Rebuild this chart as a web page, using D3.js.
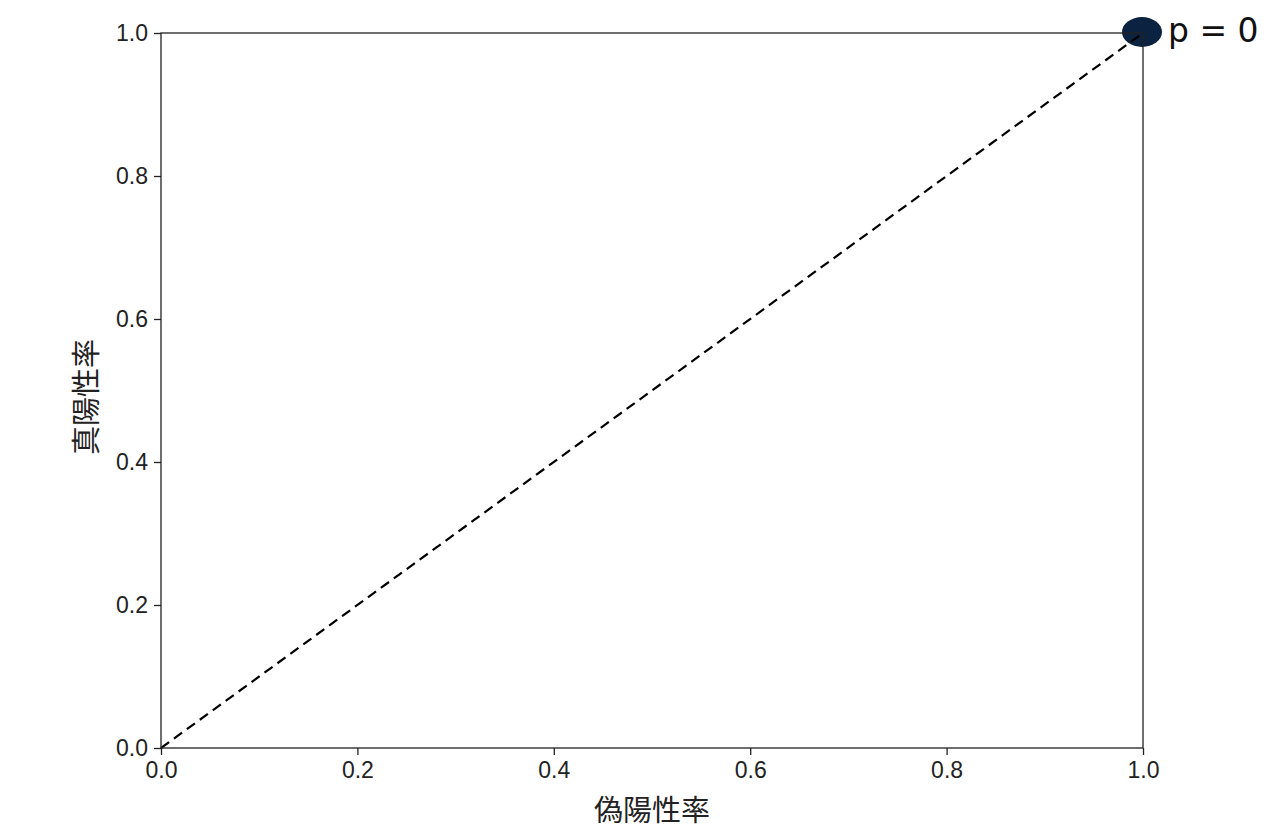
<!DOCTYPE html>
<html>
<head>
<meta charset="utf-8">
<script src="https://cdn.jsdelivr.net/npm/d3@7"></script>
<style>
  body { margin: 0; background: #fff; }
  .tick text { font-family: "Liberation Sans", Arial, sans-serif; font-size: 23px; fill: #222; }
  .axisText { font-family: "Noto Sans CJK JP", sans-serif; font-size: 29px; fill: #222; }
</style>
</head>
<body>
<script>
// chart data
var diagX = [0, 1];
var diagY = [0, 1];
var pointFpr = [1];
var pointTpr = [1];
var pointLabels = ["p = 0"];
var tickValues = [0, 0.2, 0.4, 0.6, 0.8, 1.0];

var svgWidth = 1278;
var svgHeight = 832;
var margin = {top: 33, right: 135, bottom: 84, left: 161};
var width = svgWidth - margin.left - margin.right;
var height = svgHeight - margin.top - margin.bottom;

var svg = d3.select("body")
  .append("svg")
  .attr("width", svgWidth)
  .attr("height", svgHeight);

var chartGroup = svg.append("g")
  .attr("transform", `translate(${margin.left}, ${margin.top})`);

var xScale = d3.scaleLinear().domain([0, 1]).range([0, width]);
var yScale = d3.scaleLinear().domain([0, 1]).range([height, 0]);

var bottomAxis = d3.axisBottom(xScale).tickValues(tickValues).tickFormat(d3.format(".1f")).tickSize(7).tickPadding(7);
var leftAxis = d3.axisLeft(yScale).tickValues(tickValues).tickFormat(d3.format(".1f")).tickSize(7).tickPadding(6);

var xAxisG = chartGroup.append("g")
  .attr("transform", `translate(0, ${height})`)
  .call(bottomAxis);
var yAxisG = chartGroup.append("g").call(leftAxis);

[xAxisG, yAxisG].forEach(function (g) {
  g.select(".domain").remove();
  g.selectAll(".tick line").attr("stroke", "#222").attr("stroke-width", 1.3);
});

// point marker (under the dashed line and frame)
chartGroup.selectAll("ellipse")
  .data(pointFpr)
  .enter()
  .append("ellipse")
  .attr("cx", function (d) { return xScale(d) - 1; })
  .attr("cy", function (d, i) { return yScale(pointTpr[i]) - 1; })
  .attr("rx", 20)
  .attr("ry", 15)
  .attr("fill", "#0b2240");

// diagonal dashed line
var line = d3.line()
  .x(function (d, i) { return xScale(diagX[i]); })
  .y(function (d, i) { return yScale(diagY[i]); });

chartGroup.append("path")
  .datum(diagX)
  .attr("d", line)
  .attr("fill", "none")
  .attr("stroke", "#000")
  .attr("stroke-width", 2.2)
  .attr("stroke-dasharray", "10,6");

// frame
chartGroup.append("rect")
  .attr("x", 0).attr("y", 0)
  .attr("width", width).attr("height", height)
  .attr("fill", "none")
  .attr("stroke", "#222")
  .attr("stroke-width", 1.3);

chartGroup.selectAll(".pointLabel")
  .data(pointFpr)
  .enter()
  .append("text")
  .attr("class", "pointLabel")
  .attr("x", function (d) { return xScale(d) + 25; })
  .attr("y", function (d, i) { return yScale(pointTpr[i]) + 9; })
  .style("font-family", "DejaVu Sans, sans-serif")
  .style("font-size", "33px")
  .style("fill", "#111")
  .text(function (d, i) { return pointLabels[i]; });

// axis labels
chartGroup.append("text")
  .attr("class", "axisText")
  .attr("text-anchor", "middle")
  .attr("dominant-baseline", "central")
  .attr("x", width / 2)
  .attr("y", 808 - margin.top)
  .text("偽陽性率");

chartGroup.append("text")
  .attr("class", "axisText")
  .attr("text-anchor", "middle")
  .attr("dominant-baseline", "central")
  .attr("transform", `translate(${84 - margin.left}, ${397 - margin.top}) rotate(-90)`)
  .text("真陽性率");
</script>
</body>
</html>
